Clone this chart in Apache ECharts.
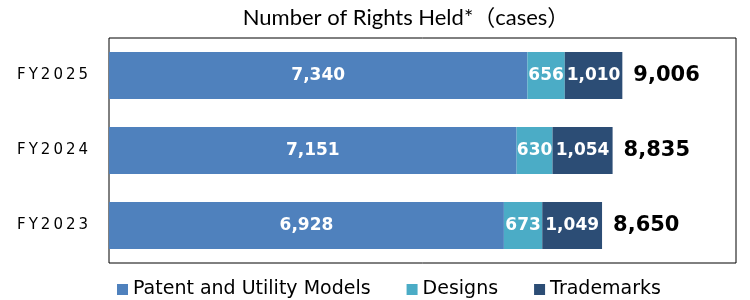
<!doctype html>
<html>
 <head>
  <meta charset="UTF-8">
  <script src="https://cdn.jsdelivr.net/npm/echarts@6/dist/echarts.min.js"></script>
  <title>Number of Rights Held</title>
 </head>
 <body style="margin:0">
  <div id="chart" style="height: 300px; width: 750px; margin: 0"></div>
  <script type="text/javascript">
    var years = ['FY2023', 'FY2024', 'FY2025'];
    var patents = [6928, 7151, 7340];
    var designs = [673, 630, 656];
    var trademarks = [1049, 1054, 1010];
    var totals = [8650, 8835, 9006];

    function fmt(v) { return Number(v).toLocaleString('en-US'); }
    // spread the year labels out a bit like the original
    function spread(s) { return s.split('').join('\u2009'); }

    var inLabel = {
      show: true, position: 'inside', color: '#fff',
      fontFamily: 'DejaVu Sans', fontWeight: 'bold', fontSize: 17,
      formatter: function (p) { return fmt(p.value); }
    };

    var myChart = echarts.init(document.getElementById('chart'));
    myChart.setOption({
      animation: false,
      title: {
        text: 'Number of Rights Held*（cases）',
        left: 401, top: 2, textAlign: 'center',
        textStyle: { fontFamily: "Lato, 'Noto Sans CJK JP'", fontWeight: 'normal', fontSize: 22, color: '#000' }
      },
      legend: {
        data: ['Patent and Utility Models', 'Designs', 'Trademarks'],
        left: 112, top: 275, icon: 'rect', itemWidth: 11, itemHeight: 11, itemGap: 36,
        textStyle: { fontFamily: 'DejaVu Sans', fontSize: 19, color: '#000' }
      },
      grid: { left: 109, right: 14, top: 38, bottom: 37, show: true, borderColor: '#000', borderWidth: 1 },
      xAxis: { type: 'value', min: 0, max: 11000, show: false, splitLine: { show: false } },
      yAxis: {
        type: 'category', data: years,
        axisLine: { show: false }, axisTick: { show: false },
        axisLabel: { margin: 21, color: '#000', fontFamily: 'DejaVu Sans', fontSize: 15, formatter: spread }
      },
      series: [
        { name: 'Patent and Utility Models', type: 'bar', stack: 'a', barWidth: 47, data: patents,
          itemStyle: { color: '#4F81BD' }, label: inLabel },
        { name: 'Designs', type: 'bar', stack: 'a', barWidth: 47, data: designs,
          itemStyle: { color: '#4BACC6' }, label: inLabel },
        { name: 'Trademarks', type: 'bar', stack: 'a', barWidth: 47, data: trademarks,
          itemStyle: { color: '#2C4D75' }, label: inLabel },
        { name: 'Total', type: 'bar', barWidth: 47, barGap: '-100%', data: totals, z: 1,
          itemStyle: { color: 'rgba(0,0,0,0)' },
          label: { show: true, position: 'right', distance: 11, color: '#000',
            fontFamily: 'DejaVu Sans', fontWeight: 'bold', fontSize: 21,
            formatter: function (p) { return fmt(p.value); } } }
      ]
    });
  </script>
 </body>
</html>
